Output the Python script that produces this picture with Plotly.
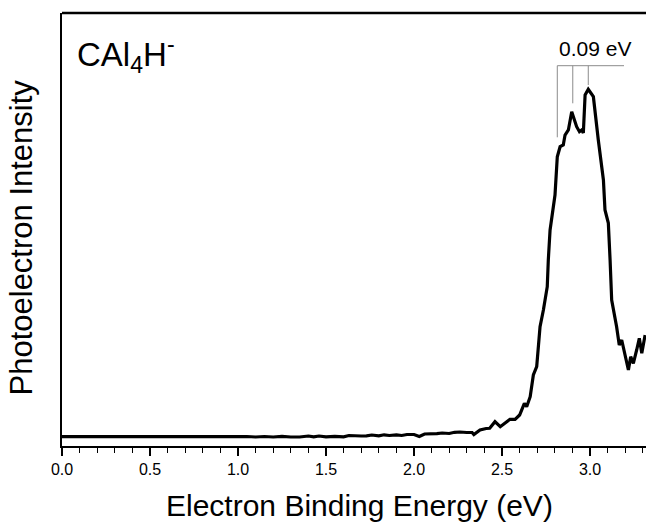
import plotly.graph_objects as go

# Electron binding energy (eV) and photoelectron intensity (arb. units)
energy = [0.00, 0.20, 0.40, 0.60, 0.80, 1.00, 1.02, 1.05, 1.10, 1.15, 1.20, 1.25, 1.30, 1.35,
          1.40, 1.43, 1.46, 1.50, 1.55, 1.60, 1.63, 1.66, 1.70, 1.73, 1.76, 1.80, 1.83, 1.86,
          1.90, 1.93, 1.96, 2.00, 2.03, 2.06, 2.10, 2.13, 2.16, 2.20, 2.23, 2.26, 2.30, 2.33,
          2.34, 2.375, 2.41, 2.43, 2.46, 2.49, 2.527, 2.545, 2.574, 2.60, 2.627, 2.64, 2.66,
          2.678, 2.697, 2.706, 2.716, 2.735, 2.757, 2.763, 2.773, 2.801, 2.814, 2.83, 2.848,
          2.858, 2.877, 2.896, 2.924, 2.94, 2.953, 2.962, 2.972, 2.99, 3.019, 3.047, 3.076,
          3.085, 3.104, 3.114, 3.123, 3.151, 3.166, 3.18, 3.189, 3.205, 3.218, 3.231, 3.246,
          3.265, 3.28, 3.294, 3.313]
intensity = [9.3, 9.3, 9.3, 9.3, 9.3, 9.3, 10.0, 9.5, 9.0, 9.5, 9.0, 9.7, 9.0, 9.0,
             10.0, 9.2, 10.0, 9.2, 9.7, 9.2, 10.5, 10.0, 10.0, 10.2, 11.0, 10.2, 11.2, 10.5,
             11.2, 10.5, 11.5, 11.5, 9.5, 12.0, 12.0, 12.3, 13.0, 12.5, 13.7, 14.0, 13.5, 13.5,
             11.5, 16.0, 17.5, 17.7, 24.3, 19.3, 24.3, 26.7, 26.7, 31.0, 42.7, 39.3, 49.3,
             71.0, 79.3, 96.0, 119.3, 136.0, 159.3, 186.0, 216.0, 251.0, 289.3, 299.3, 301.0,
             311.0, 316.0, 334.3, 319.3, 314.3, 316.0, 313.0, 351.0, 356.7, 349.3, 306.0, 266.0,
             236.0, 223.0, 186.0, 146.0, 119.3, 101.0, 106.0, 99.3, 86.0, 76.0, 89.3, 82.7,
             96.0, 107.7, 92.7, 111.0]

# vibrational progression markers (spacing 0.09 eV)
peak_positions = [2.814, 2.902, 2.990]
peak_marker_bottoms = [308.7, 342.7, 361.0]
bar_level = 380.3
bar_end = 3.193

x_ticks = [0.0, 0.5, 1.0, 1.5, 2.0, 2.5, 3.0]
x_tick_text = ["0.0", "0.5", "1.0", "1.5", "2.0", "2.5", "3.0"]

FONT = "Liberation Sans, Arial, Helvetica, sans-serif"

fig = go.Figure()
fig.add_trace(go.Scatter(x=energy, y=intensity, mode="lines",
                         line=dict(color="black", width=3.2), showlegend=False,
                         hoverinfo="skip"))

shapes = []
for px_, pb in zip(peak_positions, peak_marker_bottoms):
    shapes.append(dict(type="line", xref="x", yref="y", x0=px_, x1=px_, y0=pb, y1=bar_level,
                       line=dict(color="#8c8c8c", width=1)))
shapes.append(dict(type="line", xref="x", yref="y", x0=peak_positions[0], x1=bar_end,
                   y0=bar_level, y1=bar_level, line=dict(color="#8c8c8c", width=1)))
# top frame line
shapes.append(dict(type="line", xref="paper", yref="paper", x0=0, x1=1, y0=1, y1=1,
                   line=dict(color="black", width=2.5)))

fig.update_layout(
    width=646, height=523,
    margin=dict(l=62, r=0, t=13, b=77, autoexpand=False),
    paper_bgcolor="white", plot_bgcolor="white",
    font=dict(family=FONT, color="black"),
    shapes=shapes,
    xaxis=dict(range=[0, 3.318], showgrid=False, zeroline=False, automargin=False,
               showline=True, linecolor="black", linewidth=1.5,
               ticks="outside", ticklen=8, tickwidth=1.5, tickcolor="black",
               tickvals=x_ticks, ticktext=x_tick_text,
               tickfont=dict(size=16, family=FONT, color="black"),
               minor=dict(dtick=0.1, tick0=0, ticks="outside", ticklen=5, tickwidth=1.2,
                          tickcolor="black", showgrid=False)),
    yaxis=dict(range=[0, 433], showgrid=False, zeroline=False, automargin=False,
               showline=True, linecolor="black", linewidth=2,
               ticks="", showticklabels=False),
    annotations=[
        dict(text="Electron Binding Energy (eV)", xref="paper", yref="paper",
             x=0.510, y=-0.138, xanchor="center", yanchor="middle", showarrow=False,
             font=dict(size=30, family=FONT, color="black")),
        dict(text="Photoelectron Intensity", xref="paper", yref="paper",
             x=-0.0685, y=0.4815, xanchor="center", yanchor="middle", showarrow=False,
             textangle=-90, font=dict(size=31, family=FONT, color="black")),
        dict(text="CAl<sub>4</sub>H<sup>-</sup>", xref="paper", yref="paper",
             x=0.022, y=0.905, xanchor="left", yanchor="middle", showarrow=False,
             font=dict(size=33, family=FONT, color="black")),
        dict(text="0.09 eV", xref="x", yref="y", x=3.026, y=398,
             xanchor="center", yanchor="middle", showarrow=False,
             font=dict(size=21, family=FONT, color="black")),
    ],
)

fig.write_html("out.html", config={"displayModeBar": False, "staticPlot": True})

# remove the default page margin so the figure fills the 646x523 window exactly
with open("out.html", "r", encoding="utf-8") as f:
    html = f.read()
html = html.replace("<head>", "<head><style>html,body{margin:0;padding:0;overflow:hidden;}</style>", 1)
with open("out.html", "w", encoding="utf-8") as f:
    f.write(html)
